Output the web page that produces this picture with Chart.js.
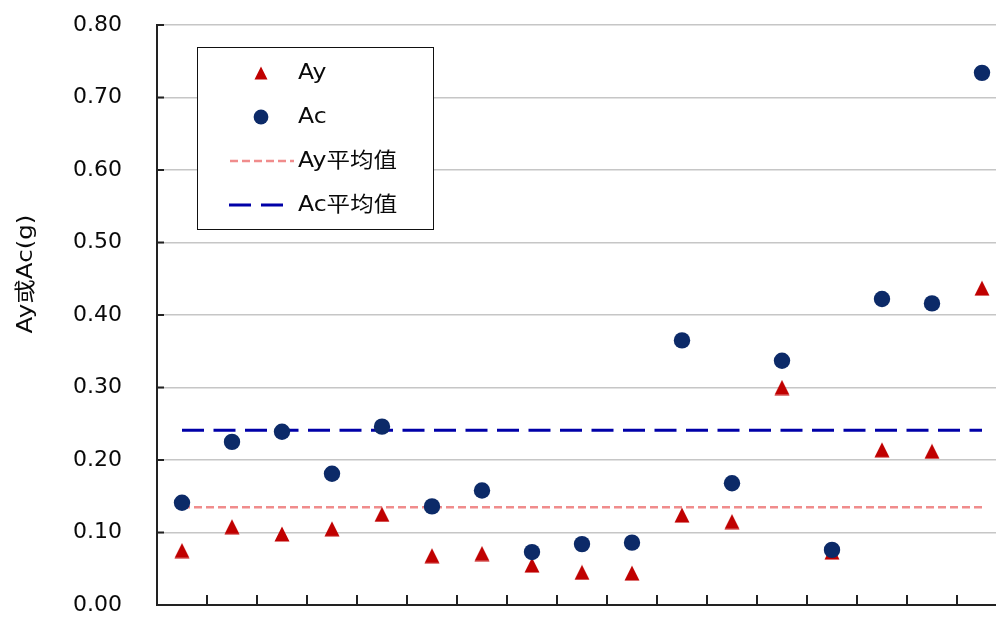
<!DOCTYPE html>
<html>
<head>
<meta charset="utf-8">
<title>Ay / Ac</title>
<script src="https://cdn.jsdelivr.net/npm/chart.js@4.4.1/dist/chart.umd.min.js"></script>
<style>
  html, body { margin: 0; padding: 0; background: #ffffff; overflow: hidden; }
  #wrap { width: 996px; height: 617px; }
</style>
</head>
<body>
<div id="wrap"><canvas id="chart" width="996" height="617"></canvas></div>
<script>
// Sample index (one column per case)
const samples = [0, 1, 2, 3, 4, 5, 6, 7, 8, 9, 10, 11, 12, 13, 14, 15, 16];
// Yield acceleration Ay (g)
const ayValues = [0.075, 0.108, 0.098, 0.105, 0.125, 0.068, 0.071, 0.055, 0.045, 0.044,
                  0.124, 0.115, 0.300, 0.073, 0.214, 0.212, 0.437];
// Critical acceleration Ac (g)
const acValues = [0.141, 0.225, 0.239, 0.181, 0.246, 0.136, 0.158, 0.073, 0.084, 0.086,
                  0.365, 0.168, 0.337, 0.076, 0.422, 0.416, 0.734];
// Mean levels
const ayMean = [0.135];
const acMean = [0.241];
// Axis ticks
const yTicks = [0, 0.1, 0.2, 0.3, 0.4, 0.5, 0.6, 0.7, 0.8];
const seriesNames = ['Ay', 'Ac', 'Ay平均值', 'Ac平均值'];
const yTitle = 'Ay或Ac(g)';

const RED = '#c00000';
const NAVY = '#0c2a68';
const PINK = '#f08c8c';
const BLUE = '#0000a8';
const TEXT = '#0a0a0a';
const FONT = '"DejaVu Sans", "Noto Sans CJK SC", sans-serif';

const first = samples[0];
const last = samples[samples.length - 1];

// Isosceles triangle marker (box as tall as it is wide)
function triangleSprite(size, color) {
  const c = document.createElement('canvas');
  c.width = size;
  c.height = size;
  const g = c.getContext('2d');
  g.fillStyle = color;
  g.beginPath();
  g.moveTo(size / 2, 0.5);
  g.lineTo(size - 0.5, size - 0.5);
  g.lineTo(0.5, size - 0.5);
  g.closePath();
  g.fill();
  return c;
}
const triMarker = triangleSprite(16, RED);
const triLegend = triangleSprite(14, RED);

// Inward tick marks on both axes
const innerTicks = {
  id: 'innerTicks',
  beforeDatasetsDraw(chart) {
    const { ctx, chartArea, scales } = chart;
    ctx.save();
    ctx.strokeStyle = '#222';
    ctx.lineWidth = 2;
    ctx.beginPath();
    for (let i = 0; i < samples.length; i++) {
      const x = Math.round(scales.x.getPixelForValue(samples[i] + 0.5));
      if (x > chartArea.right) continue;
      ctx.moveTo(x, chartArea.bottom);
      ctx.lineTo(x, chartArea.bottom - 10);
    }
    yTicks.forEach(v => {
      const y = scales.y.getPixelForValue(v);
      ctx.moveTo(chartArea.left, y);
      ctx.lineTo(chartArea.left + 7, y);
    });
    ctx.stroke();
    ctx.restore();
  }
};

// Rotated axis title and boxed legend
const decorations = {
  id: 'decorations',
  afterDraw(chart) {
    const { ctx } = chart;
    ctx.save();
    ctx.fillStyle = TEXT;
    ctx.font = '21px ' + FONT;
    ctx.textAlign = 'center';
    ctx.textBaseline = 'middle';
    ctx.translate(27, 274);
    ctx.rotate(-Math.PI / 2);
    ctx.scale(1.17, 1);
    ctx.fillText(yTitle, 0, 0);
    ctx.restore();

    // legend box
    const bx = 197, by = 47, bw = 236, bh = 182;
    ctx.save();
    ctx.fillStyle = '#ffffff';
    ctx.fillRect(bx, by, bw, bh);
    ctx.strokeStyle = '#111';
    ctx.lineWidth = 1;
    ctx.strokeRect(bx + 0.5, by + 0.5, bw, bh);

    const rows = [73, 117, 161, 205];
    const mx = 261;
    ctx.drawImage(triLegend, mx - 7, rows[0] - 7);
    ctx.fillStyle = NAVY;
    ctx.beginPath();
    ctx.arc(mx, rows[1], 7.4, 0, Math.PI * 2);
    ctx.fill();
    ctx.lineWidth = 2.5;
    ctx.strokeStyle = PINK;
    ctx.setLineDash([8, 4]);
    ctx.beginPath();
    ctx.moveTo(230, rows[2]);
    ctx.lineTo(294, rows[2]);
    ctx.stroke();
    ctx.lineWidth = 3;
    ctx.strokeStyle = BLUE;
    ctx.setLineDash([22, 10]);
    ctx.beginPath();
    ctx.moveTo(229, rows[3]);
    ctx.lineTo(283, rows[3]);
    ctx.stroke();
    ctx.setLineDash([]);

    ctx.fillStyle = TEXT;
    ctx.font = '21px ' + FONT;
    ctx.textAlign = 'left';
    ctx.textBaseline = 'middle';
    seriesNames.forEach((name, i) => {
      ctx.save();
      ctx.translate(298, rows[i] + 1);
      ctx.scale(1.12, 1);
      ctx.fillText(name, 0, 0);
      ctx.restore();
    });
    ctx.restore();
  }
};

new Chart(document.getElementById('chart'), {
  type: 'scatter',
  data: {
    datasets: [
      {
        label: seriesNames[0],
        data: samples.map((s, i) => ({ x: s, y: ayValues[i] })),
        pointStyle: triMarker,
        pointRadius: 8,
        backgroundColor: RED,
        borderColor: RED,
        order: 1
      },
      {
        label: seriesNames[1],
        data: samples.map((s, i) => ({ x: s, y: acValues[i] })),
        pointStyle: 'circle',
        pointRadius: 8.2,
        pointBorderWidth: 0,
        backgroundColor: NAVY,
        borderColor: NAVY,
        order: 0
      },
      {
        type: 'line',
        label: seriesNames[2],
        data: [{ x: first, y: ayMean[0] }, { x: last, y: ayMean[0] }],
        borderColor: PINK,
        borderWidth: 2.5,
        borderDash: [8, 4],
        pointRadius: 0,
        fill: false,
        order: 3
      },
      {
        type: 'line',
        label: seriesNames[3],
        data: [{ x: first, y: acMean[0] }, { x: last, y: acMean[0] }],
        borderColor: BLUE,
        borderWidth: 3,
        borderDash: [22, 9.5],
        pointRadius: 0,
        fill: false,
        order: 2
      }
    ]
  },
  options: {
    responsive: false,
    devicePixelRatio: 1,
    animation: false,
    layout: { autoPadding: false, padding: { top: 25, right: 0, bottom: 12, left: 0 } },
    plugins: {
      legend: { display: false },
      tooltip: { enabled: false },
      title: { display: false }
    },
    scales: {
      x: {
        type: 'linear',
        min: first - 0.5,
        max: 16.28,
        grid: { display: false, drawTicks: false },
        ticks: { display: false },
        border: { display: true, color: '#222', width: 2 }
      },
      y: {
        min: 0,
        max: 0.8,
        afterBuildTicks: s => { s.ticks = yTicks.map(v => ({ value: v })); },
        afterFit: s => { s.width = 157; s.paddingTop = 0; s.paddingBottom = 0; },
        ticks: {
          font: { family: FONT, size: 22 },
          color: TEXT,
          padding: 35,
          callback: v => Number(v).toFixed(2)
        },
        grid: { color: '#c6c6c6', lineWidth: 1.5, drawTicks: false },
        border: { display: true, color: '#222', width: 2 }
      }
    }
  },
  plugins: [innerTicks, decorations]
});
</script>
</body>
</html>
